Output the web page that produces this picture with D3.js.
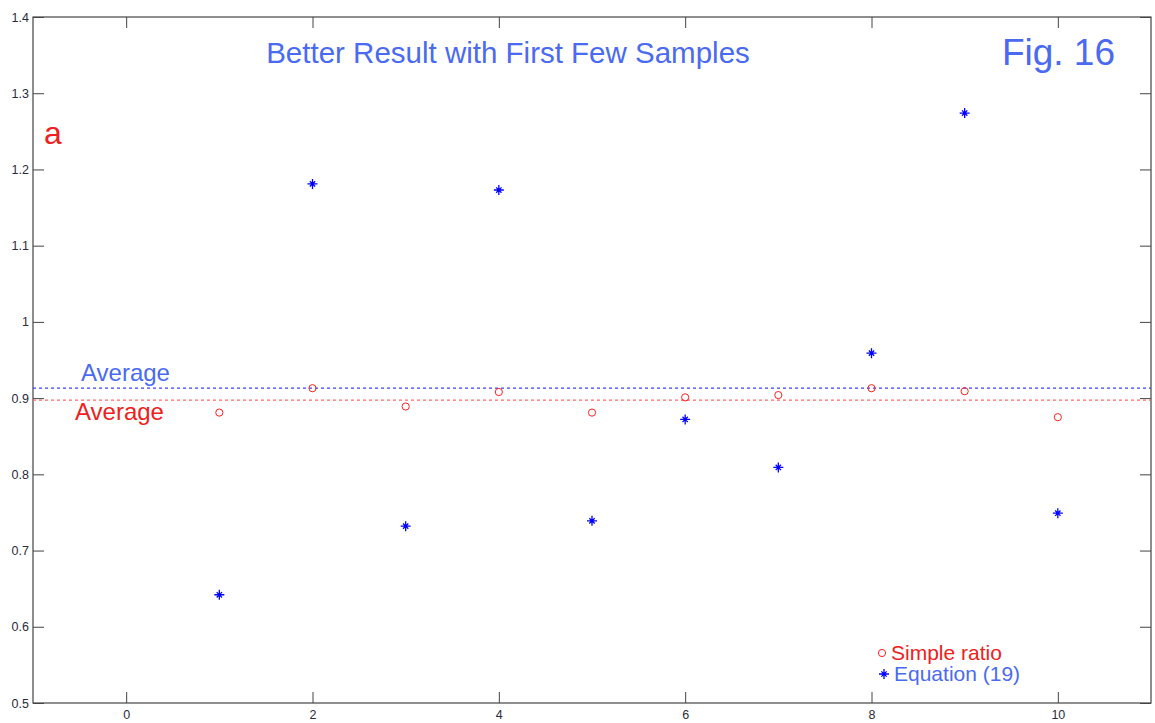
<!DOCTYPE html>
<html>
<head>
<meta charset="utf-8">
<script src="https://cdn.jsdelivr.net/npm/d3@7"></script>
<style>
  html, body { margin: 0; padding: 0; background: #fff; }
  svg { display: block; font-family: "Liberation Sans", Arial, sans-serif; }
</style>
</head>
<body>
<svg id="chart" width="1155" height="723"></svg>
<script>
// Sample index for each measurement
const samples = [1, 2, 3, 4, 5, 6, 7, 8, 9, 10];
// Ratio estimated with the simple ratio method
const simpleRatio = [0.881, 0.913, 0.889, 0.908, 0.881, 0.901, 0.904, 0.913, 0.909, 0.875];
// Ratio estimated with Equation (19)
const equation19 = [0.642, 1.181, 0.732, 1.173, 0.739, 0.872, 0.809, 0.959, 1.274, 0.749];
// Axis ticks
const xTicks = [0, 2, 4, 6, 8, 10];
const yTicks = [0.5, 0.6, 0.7, 0.8, 0.9, 1.0, 1.1, 1.2, 1.3, 1.4];

const svg = d3.select("#chart");
const plotLeft = 33, plotRight = 1151, plotTop = 17, plotBottom = 703;

const x = d3.scaleLinear().domain([-1, 11]).range([plotLeft, plotRight]);
const y = d3.scaleLinear().domain([0.5, 1.4]).range([plotBottom, plotTop]);

const axisColor = "#444";
const labelColor = "#2b2b3a";
const blueText = "#4a6af2";
const redText = "#ee2020";
const tickFont = 12.5;

// Frame
svg.append("rect")
  .attr("x", plotLeft).attr("y", plotTop)
  .attr("width", plotRight - plotLeft).attr("height", plotBottom - plotTop)
  .attr("fill", "none").attr("stroke", axisColor).attr("stroke-width", 1.2);

// Axes with inward ticks, mirrored on top and right
const fmt = d => String(+d.toFixed(1));
svg.append("g").attr("transform", `translate(0,${plotBottom})`)
  .call(d3.axisBottom(x).tickValues(xTicks).tickSizeInner(-11).tickSizeOuter(0).tickPadding(7).tickFormat(d3.format("d")))
  .call(g => g.select(".domain").remove())
  .call(g => g.selectAll("line").attr("stroke", axisColor))
  .call(g => g.selectAll("text").attr("fill", labelColor).style("font-size", tickFont + "px").attr("font-family", "Liberation Sans, Arial, sans-serif"));
svg.append("g").attr("transform", `translate(0,${plotTop})`)
  .call(d3.axisTop(x).tickValues(xTicks).tickSizeInner(-11).tickSizeOuter(0).tickFormat(""))
  .call(g => g.select(".domain").remove())
  .call(g => g.selectAll("line").attr("stroke", axisColor));
svg.append("g").attr("transform", `translate(${plotLeft},0)`)
  .call(d3.axisLeft(y).tickValues(yTicks).tickSizeInner(-11).tickSizeOuter(0).tickPadding(4).tickFormat(fmt))
  .call(g => g.select(".domain").remove())
  .call(g => g.selectAll("line").attr("stroke", axisColor))
  .call(g => g.selectAll("text").attr("fill", labelColor).style("font-size", tickFont + "px").attr("font-family", "Liberation Sans, Arial, sans-serif"));
svg.append("g").attr("transform", `translate(${plotRight},0)`)
  .call(d3.axisRight(y).tickValues(yTicks).tickSizeInner(-11).tickSizeOuter(0).tickFormat(""))
  .call(g => g.select(".domain").remove())
  .call(g => g.selectAll("line").attr("stroke", axisColor));

// Average lines
const avgEq = d3.mean(equation19);
const avgRatio = d3.mean(simpleRatio);
svg.append("line")
  .attr("x1", plotLeft).attr("x2", plotRight).attr("y1", y(avgEq)).attr("y2", y(avgEq))
  .attr("stroke", "#4040ff").attr("stroke-width", 1.3).attr("stroke-dasharray", "3,3");
svg.append("line")
  .attr("x1", plotLeft).attr("x2", plotRight).attr("y1", y(avgRatio)).attr("y2", y(avgRatio))
  .attr("stroke", "#ff6a6a").attr("stroke-width", 1.3).attr("stroke-dasharray", "3,3");

svg.append("text").attr("x", 81).attr("y", y(avgEq) - 7)
  .attr("fill", blueText).attr("font-size", 24).text("Average");
svg.append("text").attr("x", 75).attr("y", y(avgRatio) + 20)
  .attr("fill", redText).attr("font-size", 24).text("Average");

// Star marker path (asterisk with 8 arms)
function starPath(cx, cy, r) {
  let p = "";
  for (let i = 0; i < 4; i++) {
    const a = i * Math.PI / 4;
    const rr = (i % 2 === 0) ? r : r * 0.75;
    const dx = Math.cos(a) * rr, dy = Math.sin(a) * rr;
    p += `M${cx - dx},${cy - dy}L${cx + dx},${cy + dy}`;
  }
  return p;
}

// Simple ratio points
svg.append("g").selectAll("circle")
  .data(samples.map((s, i) => [s, simpleRatio[i]]))
  .join("circle")
  .attr("cx", d => x(d[0])).attr("cy", d => y(d[1])).attr("r", 3.6)
  .attr("fill", "none").attr("stroke", "#ff2020").attr("stroke-width", 1);

// Equation (19) points
svg.append("g").selectAll("path")
  .data(samples.map((s, i) => [s, equation19[i]]))
  .join("path")
  .attr("d", d => starPath(x(d[0]), y(d[1]), 5))
  .attr("stroke", "#0000ff").attr("stroke-width", 1.3).attr("fill", "none");

// Titles
svg.append("text").attr("x", 508).attr("y", 63).attr("text-anchor", "middle")
  .attr("fill", blueText).attr("font-size", 29.5).text("Better Result with First Few Samples");
svg.append("text").attr("x", 1115).attr("y", 65).attr("text-anchor", "end")
  .attr("fill", blueText).attr("font-size", 37).text("Fig. 16");
svg.append("text").attr("x", 44).attr("y", 144)
  .attr("fill", redText).attr("font-size", 32).text("a");

// Legend
svg.append("circle").attr("cx", 882).attr("cy", 653).attr("r", 3.6)
  .attr("fill", "none").attr("stroke", "#ff2020").attr("stroke-width", 1);
svg.append("text").attr("x", 891).attr("y", 660)
  .attr("fill", redText).attr("font-size", 21).text("Simple ratio");
svg.append("path").attr("d", starPath(884, 674, 5))
  .attr("stroke", "#0000ff").attr("stroke-width", 1.3).attr("fill", "none");
svg.append("text").attr("x", 894).attr("y", 681)
  .attr("fill", blueText).attr("font-size", 21).text("Equation (19)");
</script>
</body>
</html>
